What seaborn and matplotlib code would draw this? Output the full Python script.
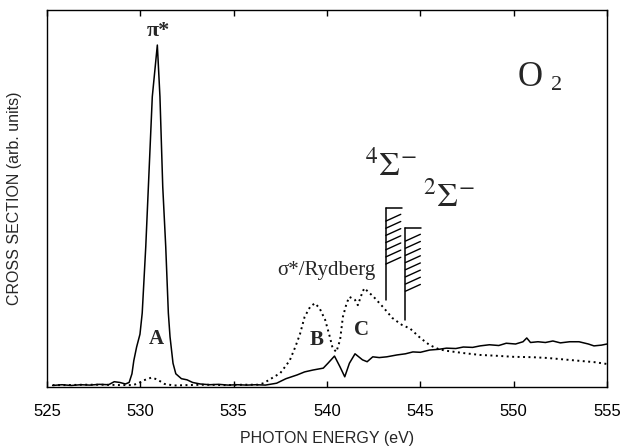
import numpy as np
import pandas as pd
import seaborn as sns
import matplotlib
matplotlib.use('Agg')
import matplotlib.pyplot as plt

# curve 1 (solid): strong pi* resonance, weak sigma* region
e_solid = [525.3, 525.8, 526.3, 526.8, 527.3, 527.8, 528.3, 528.6, 528.9, 529.2,
           529.4, 529.55, 529.65, 529.8, 529.98, 530.1, 530.29, 530.43, 530.64, 530.91,
           531.05, 531.2, 531.36, 531.5, 531.59, 531.75, 531.9, 532.2, 532.5, 532.8,
           533.2, 533.7, 534.2, 534.7, 535.2, 535.7, 536.2, 536.7, 537.3, 537.8,
           538.4, 538.8, 539.25, 539.8, 540.05, 540.4, 540.7, 540.95, 541.2, 541.5,
           541.9, 542.15, 542.45, 542.8, 543.2, 543.75, 544.2, 544.6, 545.0, 545.5,
           546.0, 546.4, 546.9, 547.3, 547.8, 548.2, 548.7, 549.2, 549.6, 550.1,
           550.5, 550.7, 550.9, 551.3, 551.7, 552.1, 552.5, 553.0, 553.5, 554.0,
           554.3, 554.7, 555.0]
i_solid = [0.004, 0.006, 0.004, 0.006, 0.005, 0.007, 0.006, 0.014, 0.012, 0.008,
           0.012, 0.035, 0.070, 0.106, 0.140, 0.196, 0.372, 0.531, 0.770, 0.907,
           0.770, 0.531, 0.372, 0.196, 0.133, 0.063, 0.035, 0.022, 0.019, 0.012,
           0.008, 0.006, 0.007, 0.005, 0.006, 0.005, 0.006, 0.005, 0.010, 0.022,
           0.032, 0.040, 0.045, 0.050, 0.063, 0.082, 0.053, 0.027, 0.063, 0.088,
           0.072, 0.067, 0.080, 0.078, 0.080, 0.085, 0.088, 0.093, 0.092, 0.098,
           0.100, 0.103, 0.102, 0.106, 0.105, 0.109, 0.112, 0.110, 0.116, 0.114,
           0.120, 0.130, 0.118, 0.120, 0.118, 0.122, 0.117, 0.120, 0.120, 0.114,
           0.109, 0.111, 0.114]

# curve 2 (dotted): weak pi* (A), strong sigma*/Rydberg features (B, C)
e_dot = [525.3, 526.0, 527.0, 528.0, 529.0, 529.6, 529.9, 530.2, 530.6, 530.9,
         531.3, 531.8, 532.5, 533.5, 534.5, 535.5, 536.3, 536.6, 537.0, 537.5,
         538.0, 538.3, 538.55, 538.8, 539.1, 539.35, 539.6, 539.9, 540.15, 540.3,
         540.5, 540.7, 540.85, 541.05, 541.2, 541.5, 541.65, 541.9, 542.0, 542.5,
         543.0, 543.5, 544.0, 544.45, 545.0, 545.5, 546.0, 546.4, 547.3, 548.2,
         549.0, 550.0, 551.0, 551.8, 552.7, 553.6, 554.3, 555.0]
i_dot = [0.005, 0.005, 0.006, 0.006, 0.005, 0.005, 0.010, 0.018, 0.025, 0.020,
         0.008, 0.004, 0.005, 0.006, 0.005, 0.006, 0.006, 0.010, 0.022, 0.037,
         0.070, 0.106, 0.140, 0.186, 0.213, 0.222, 0.209, 0.178, 0.133, 0.103,
         0.093, 0.125, 0.186, 0.222, 0.239, 0.231, 0.217, 0.252, 0.262, 0.239,
         0.212, 0.183, 0.165, 0.155, 0.130, 0.111, 0.100, 0.096, 0.090, 0.085,
         0.083, 0.080, 0.079, 0.077, 0.073, 0.069, 0.066, 0.061]

# ionization thresholds (energy, top of bar, bottom of hatch, bottom of line)
thr_e = [543.15, 544.2]
thr_top = [0.475, 0.422]
thr_hatch_bot = [0.31, 0.25]
thr_bot = [0.231, 0.178]

xticks = [525, 530, 535, 540, 545, 550, 555]

df1 = pd.DataFrame({'E': e_solid, 'I': i_solid})
df2 = pd.DataFrame({'E': e_dot, 'I': i_dot})

sns.set_style('white')
plt.rcParams['font.family'] = ['Liberation Sans', 'DejaVu Sans']
plt.rcParams['mathtext.fontset'] = 'stix'

fig = plt.figure(figsize=(6.21, 4.48), dpi=100)
ax = fig.add_axes([0.0757, 0.1362, 0.9018, 0.8415])

sns.lineplot(data=df1, x='E', y='I', ax=ax, color='black', lw=1.1, estimator=None, sort=False)
sns.lineplot(data=df2, x='E', y='I', ax=ax, color='black', lw=1.4, estimator=None, sort=False,
             linestyle=(0, (1, 1.8)))

# threshold bars with hatching
for e, top, hb, bot in zip(thr_e, thr_top, thr_hatch_bot, thr_bot):
    ax.plot([e, e], [bot, top], color='black', lw=1.1)
    ax.plot([e, e + 0.85], [top, top], color='black', lw=1.1)
    for yy in np.arange(top - 0.035, hb, -0.019):
        ax.plot([e, e + 0.8], [yy, yy + 0.018], color='black', lw=1.0)

ax.set_xlim(525, 555)
ax.set_ylim(0, 1)
ax.set_xticks(xticks)
ax.set_yticks([])
ax.tick_params(axis='x', direction='in', length=4, width=1, top=True, bottom=True,
               labelsize=12, pad=12, colors='black')
for s in ax.spines.values():
    s.set_linewidth(1.0)
    s.set_color('black')

ax.set_xlabel('PHOTON ENERGY (eV)', fontsize=11.5, labelpad=9)
ax.set_ylabel('CROSS SECTION (arb. units)', fontsize=11.5, labelpad=18)

serif = ['Liberation Serif', 'DejaVu Serif']
ax.text(530.95, 0.945, 'π*', family=serif, weight='bold', fontsize=16, ha='center', va='center')
ax.text(530.84, 0.127, 'A', family=serif, weight='bold', fontsize=15, ha='center', va='center')
ax.text(539.46, 0.125, 'B', family=serif, weight='bold', fontsize=15, ha='center', va='center')
ax.text(541.87, 0.151, 'C', family=serif, weight='bold', fontsize=15, ha='center', va='center')
ax.text(539.94, 0.308, 'σ*/Rydberg', family=serif, fontsize=15, ha='center', va='center')

ax.text(543.4, 0.585, r'$^{4}\Sigma^{-}$', fontsize=24, ha='center', va='center')
ax.text(546.5, 0.505, r'$^{2}\Sigma^{-}$', fontsize=24, ha='center', va='center')

ax.text(550.9, 0.82, 'O', family=serif, fontsize=25, ha='center', va='center')
ax.text(552.3, 0.80, '2', family=serif, fontsize=16, ha='center', va='center')

fig.savefig('out.png', dpi=100)
